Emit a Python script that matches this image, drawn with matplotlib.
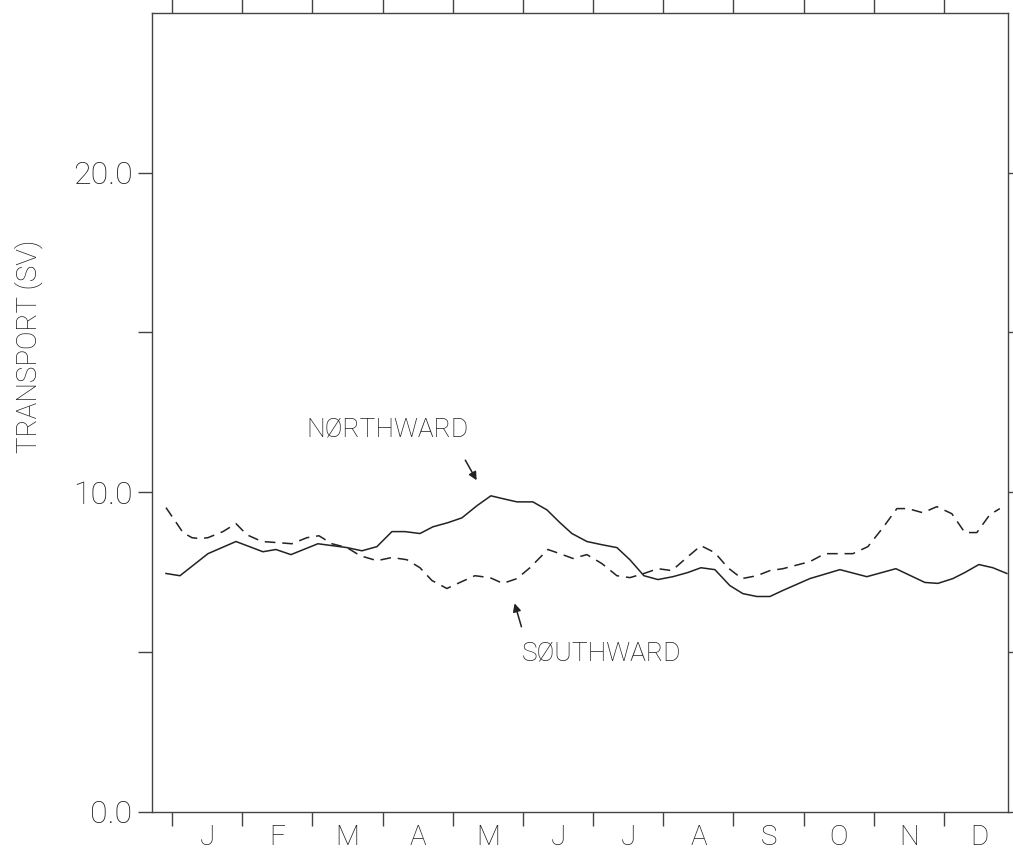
import numpy as np
import matplotlib.pyplot as plt

# month axis: 0 = start of January (Sv)
months = ['J', 'F', 'M', 'A', 'M', 'J', 'J', 'A', 'S', 'O', 'N', 'D']

t_north = [-0.085, 0.114, 0.513, 0.912, 1.296, 1.481, 1.695, 2.080, 2.493, 2.707,
           2.920, 3.134, 3.319, 3.533, 3.718, 3.932, 4.131, 4.345, 4.544, 4.715,
           4.915, 5.142, 5.342, 5.527, 5.698, 5.912, 6.125, 6.339, 6.524, 6.724,
           6.923, 7.137, 7.350, 7.536, 7.735, 7.949, 8.134, 8.333, 8.519, 8.704,
           9.088, 9.516, 9.900, 10.313, 10.726, 10.912, 11.125, 11.296, 11.496,
           11.695, 11.895]
northward = [7.46, 7.39, 8.08, 8.46, 8.14, 8.21, 8.05, 8.39, 8.27, 8.17,
             8.30, 8.77, 8.77, 8.71, 8.92, 9.05, 9.20, 9.58, 9.89, 9.80,
             9.70, 9.70, 9.45, 9.05, 8.71, 8.46, 8.36, 8.27, 7.89, 7.39,
             7.27, 7.36, 7.49, 7.64, 7.58, 7.08, 6.83, 6.74, 6.74, 6.93,
             7.30, 7.58, 7.36, 7.61, 7.18, 7.15, 7.30, 7.49, 7.74,
             7.64, 7.46]

t_south = [-0.085, 0.043, 0.157, 0.285, 0.399, 0.513, 0.726, 0.912, 1.068, 1.282,
           1.538, 1.709, 1.923, 2.094, 2.279, 2.493, 2.678, 2.920, 3.134, 3.348,
           3.533, 3.704, 3.917, 4.103, 4.316, 4.530, 4.715, 4.915, 5.100, 5.271,
           5.356, 5.527, 5.712, 5.912, 6.125, 6.339, 6.524, 6.724, 6.923, 7.123,
           7.336, 7.536, 7.735, 7.920, 8.120, 8.333, 8.519, 8.704, 9.088, 9.302,
           9.516, 9.701, 9.915, 10.128, 10.328, 10.484, 10.698, 10.897, 11.111,
           11.296, 11.467, 11.652, 11.795]
southward = [9.52, 9.11, 8.74, 8.58, 8.55, 8.58, 8.77, 9.02, 8.67, 8.46,
             8.42, 8.39, 8.58, 8.64, 8.39, 8.27, 8.02, 7.86, 7.96, 7.89,
             7.64, 7.24, 6.99, 7.18, 7.39, 7.33, 7.15, 7.30, 7.64, 8.02,
             8.21, 8.08, 7.93, 8.05, 7.77, 7.39, 7.33, 7.46, 7.61, 7.55,
             7.96, 8.33, 8.11, 7.64, 7.30, 7.39, 7.55, 7.61, 7.83, 8.08,
             8.08, 8.08, 8.30, 8.89, 9.49, 9.49, 9.36, 9.55, 9.33,
             8.74, 8.74, 9.30, 9.49]

plt.rcParams['font.family'] = ['Roboto', 'DejaVu Sans']
plt.rcParams['font.weight'] = 'light'
ink = '#222222'
txt = '#1e1e1e'

fig = plt.figure(figsize=(10.13, 8.52), dpi=100)
ax = fig.add_axes([0.150, 0.047, 0.845, 0.938])

ax.plot(t_north, northward, color=ink, lw=1.1)
ax.plot(t_south, southward, color=ink, lw=1.1, linestyle=(0, (7, 4.5)))

ax.set_xlim(-0.285, 11.91)
ax.set_ylim(0, 25)

# month boundaries as ticks, month letters centred in between
ax.set_xticks(np.arange(12))
ax.set_xticklabels([])
ax.set_xticks(np.arange(12) + 0.5, minor=True)
ax.set_xticklabels(months, minor=True)
ax.tick_params(axis='x', which='major', direction='out', length=10, width=1,
               top=True, bottom=True, color='#444444')
ax.tick_params(axis='x', which='minor', length=0, pad=9, labelsize=20,
               labelcolor=txt)

ax.set_yticks([0, 5, 10, 15, 20])
ax.set_yticklabels(['0.0', '', '10.0', '', '20.0'])
ax.tick_params(axis='y', direction='out', length=10, width=1, left=True,
               right=True, pad=4, labelsize=23, labelcolor=txt, color='#444444')

for s in ax.spines.values():
    s.set_color('#444444')
    s.set_linewidth(1.0)

ax.set_ylabel('TRANSPORT (SV)', fontsize=20, color=txt, fontweight='light')
ax.yaxis.set_label_coords(-0.127, 0.582)

ax.text(1.92, 11.95, 'NØRTHWARD', fontsize=19, color=txt, va='center', ha='left')
ax.annotate('', xy=(4.36, 10.30), xytext=(4.16, 11.08),
            arrowprops=dict(arrowstyle='-|>', color=ink, lw=1.1, mutation_scale=12))
ax.text(4.99, 4.96, 'SØUTHWARD', fontsize=19, color=txt, va='center', ha='left')
ax.annotate('', xy=(4.87, 6.61), xytext=(4.99, 5.71),
            arrowprops=dict(arrowstyle='-|>', color=ink, lw=1.1, mutation_scale=12))

fig.savefig('out.png', dpi=100)
